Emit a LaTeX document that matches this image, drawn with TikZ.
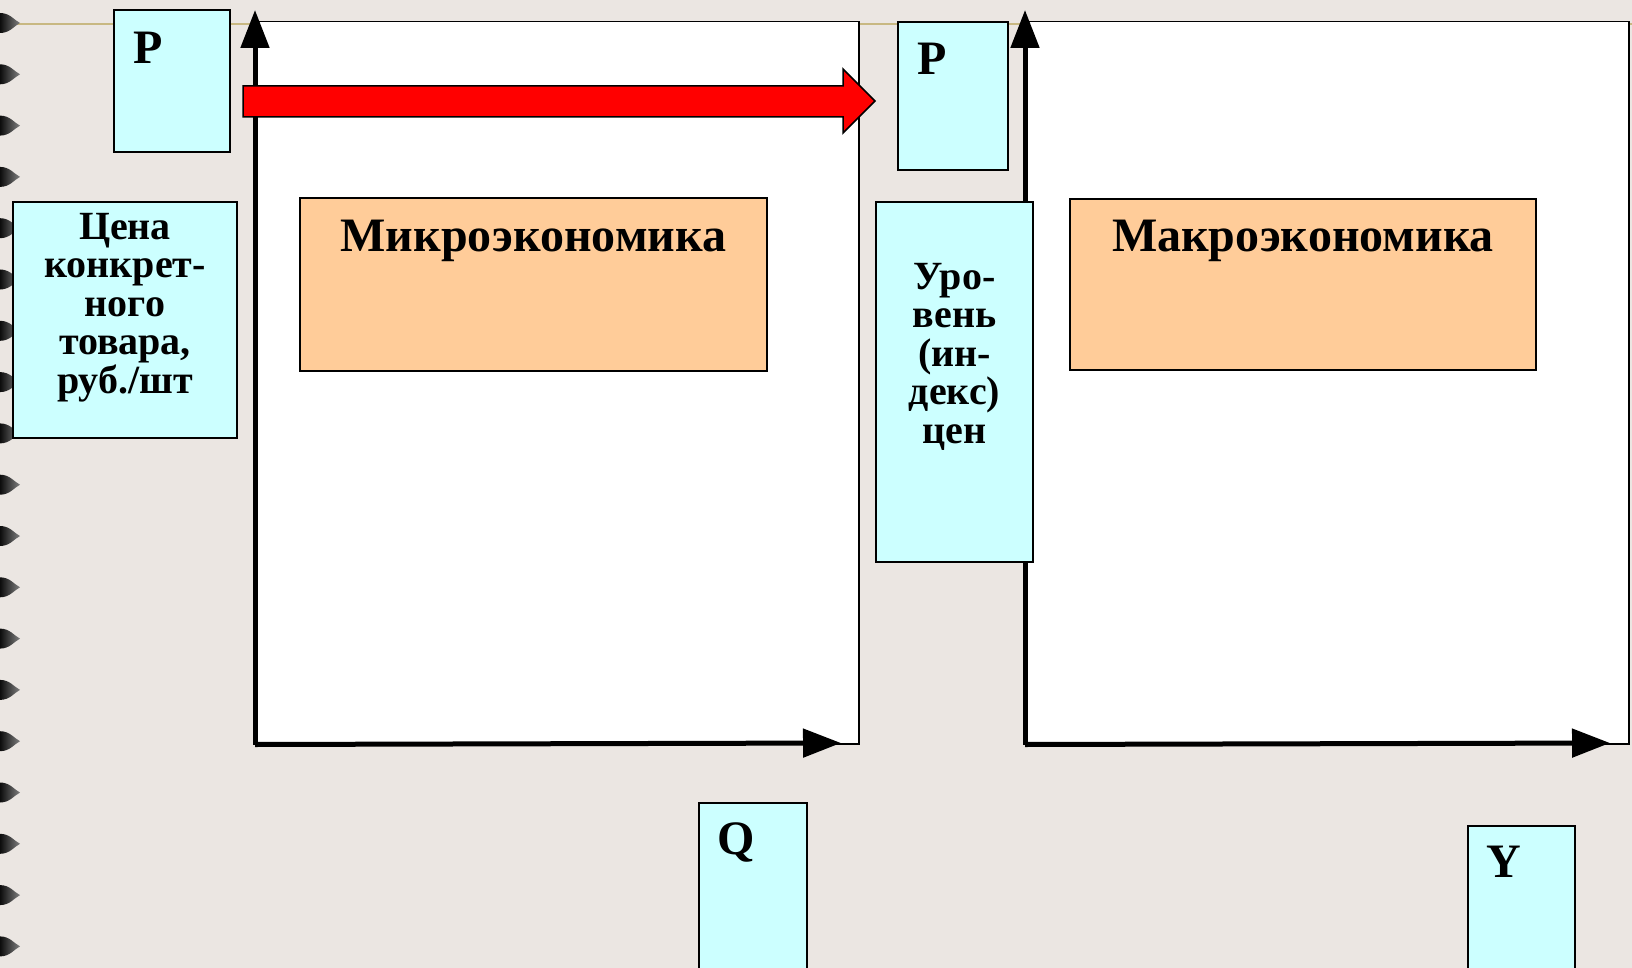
\documentclass[tikz,border=0pt]{standalone}
\usepackage{fontspec}
\setmainfont{Liberation Serif}
\usepackage{xcolor}
\usetikzlibrary{arrows.meta,positioning}
\definecolor{slide}{RGB}{235,230,226}
\definecolor{labelcyan}{RGB}{204,255,255}
\definecolor{fieldorange}{RGB}{255,204,153}
\definecolor{ruletan}{RGB}{200,184,130}
\tikzset{
  every node/.style={
    font=\bfseries
  },
  panel/.style={
    shape=rectangle,
    draw=black,
    line width=0.75pt,
    fill=white,
    inner sep=0pt,
    anchor=north west
  },
  labelbox/.style={
    shape=rectangle,
    draw=black,
    line width=1pt,
    fill=labelcyan,
    inner sep=0pt,
    anchor=north west
  },
  field/.style={
    shape=rectangle,
    draw=black,
    line width=1pt,
    fill=fieldorange,
    inner sep=0pt,
    anchor=north west
  },
  axisname/.style={
    font=\bfseries\fontsize{24}{28}\selectfont,
    inner sep=0pt
  },
  fieldname/.style={
    font=\bfseries\fontsize{24}{28}\selectfont,
    inner sep=0pt
  },
  boxtext/.style={
    font=\bfseries\fontsize{20}{19.2}\selectfont,
    align=center,
    inner sep=0pt
  },
  axis/.style={
    line width=2.5pt,
    -{Triangle[length=19pt 0,width=14pt 0]}
  }
}

\begin{document}
\begin{tikzpicture}[x=0.5pt,y=-0.5pt]

\useasboundingbox (0,0) rectangle (1632,968);
\fill[slide] (0,0) rectangle (1632,968);
\draw[ruletan, line width=0.8pt] (17,24) -- (1632,24);

% binding
\foreach \k in {0,...,18} {
  \pgfmathsetmacro{\ry}{23+51.3*\k}
  \shade[left color=black!95, right color=black!50]
    (0,\ry-10) .. controls (10,\ry-10) and (14,\ry-3) .. (20,\ry)
    .. controls (14,\ry+3) and (10,\ry+10) .. (0,\ry+10) -- cycle;
}

% panels
\node [panel, minimum width=301.5pt, minimum height=361pt] (micro) at (255,21) {};
\node [panel, minimum width=301.5pt, minimum height=361pt] (macro) at (1025,21) {};

\coordinate (microtop) at (255,10);
\coordinate (microend) at (841,743);
\coordinate (macrotop) at (1025,10);
\coordinate (macroend) at (1610,743);
\draw [axis] (micro.south west) -- (microtop);
\draw [axis] (micro.south west) -- (microend);
\draw [axis] (macro.south west) -- (macrotop);
\draw [axis] (macro.south west) -- (macroend);

% fields
\node [field, minimum width=233.5pt, minimum height=86.5pt] (microfield) at (299,197) {};
\node [fieldname, anchor=north, below=11.5pt of microfield.north] {Микроэкономика};
\node [field, minimum width=233pt, minimum height=85.5pt] (macrofield) at (1069,198) {};
\node [fieldname, anchor=north, below=11pt of macrofield.north] {Макроэкономика};

% axis labels
\node [labelbox, minimum width=58pt, minimum height=71pt] (pmicro) at (113,9) {};
\node [axisname, below right=11.5pt and 10pt of pmicro.north west] {P};
\node [labelbox, minimum width=112pt, minimum height=118pt] (pricemicro) at (12,201) {};
\node [boxtext, below=6pt of pricemicro.north] {Цена\\конкрет-\\ного\\товара,\\руб./шт};
\node [labelbox, minimum width=54pt, minimum height=90pt] (qmicro) at (698,802) {};
\node [axisname, below right=10pt and 9.5pt of qmicro.north west] {Q};

\node [labelbox, minimum width=55pt, minimum height=74pt] (pmacro) at (897,21) {};
\node [axisname, below right=11pt and 10pt of pmacro.north west] {P};
\node [labelbox, minimum width=78.5pt, minimum height=180pt] (pricemacro) at (875,201) {};
\node [boxtext, below=31pt of pricemacro.north] {Уро-\\вень\\(ин-\\декс)\\цен};
\node [labelbox, minimum width=53.5pt, minimum height=80pt] (ymacro) at (1467,825) {};
\node [axisname, below right=10.5pt and 9.5pt of ymacro.north west] {Y};

% transition arrow
\draw [black, line width=0.75pt, fill=red]
  (243,86) -- (843,86) -- (843,69) -- (875,101) -- (843,133)
  -- (843,117) -- (243,117) -- cycle;

\end{tikzpicture}
\end{document}
